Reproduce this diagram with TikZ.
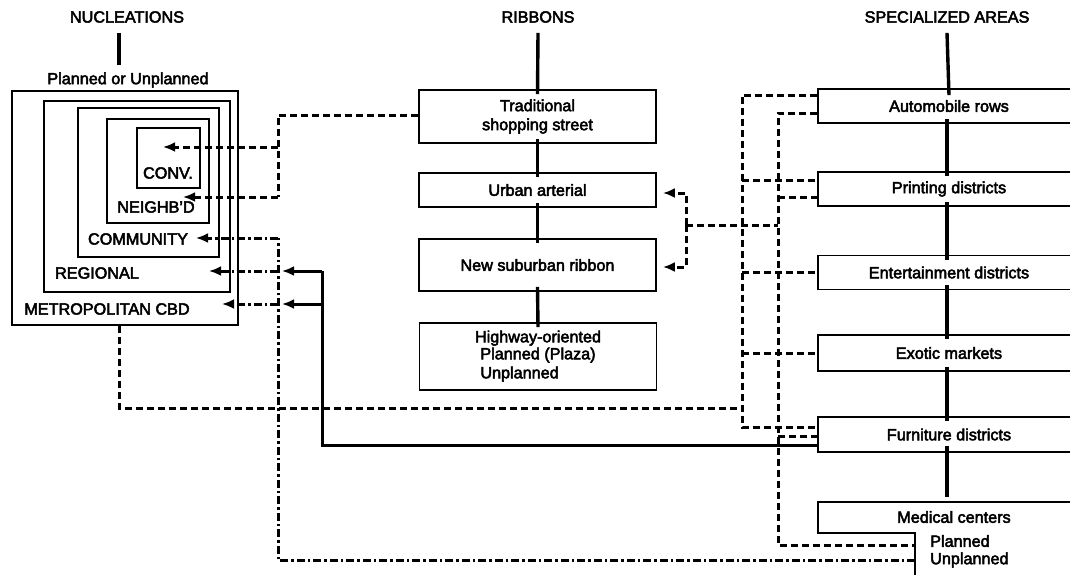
\documentclass[tikz,border=0pt]{standalone}
\usepackage{fontspec}
\setmainfont{Liberation Sans}[BoldFont=Liberation Sans, BoldFeatures={FakeBold=3}]
\usetikzlibrary{arrows.meta}
\begin{document}
\begin{tikzpicture}[x=1pt,y=-1pt,
  every node/.style={font=\fontsize{16.2}{19}\selectfont\bfseries, inner sep=0pt},
  box/.style={draw, line width=1.7pt, minimum width=237pt},
  sbox/.style={draw, line width=1.7pt, minimum width=262pt, minimum height=34pt},
  nbox/.style={draw, line width=1.7pt},
  conn/.style={line width=3.4pt},
  dsh/.style={line width=3pt, dash pattern=on 7pt off 4pt},
  dd/.style={line width=3pt, dash pattern=on 8pt off 3pt on 2.5pt off 3pt},
  sol/.style={line width=3pt},
  tip/.style={-{Latex[length=12pt,width=10pt]}}
]
\clip (0,0) rectangle (1070,574);
\useasboundingbox (0,0) rectangle (1070,574);
\fill[white] (0,0) rectangle (1070,574);

% headers
\node (hN) at (127,17) {NUCLEATIONS};
\node (hR) at (538,17) {RIBBONS};
\node (hS) at (947,17) {SPECIALIZED AREAS};
\node (pu) at (128,80) {Planned or Unplanned};

% nucleation boxes
\node[nbox, minimum width=226pt, minimum height=234pt] (metro) at (125,208) {};
\node[nbox, minimum width=186pt, minimum height=191pt] (reg) at (137,196.5) {};
\node[nbox, minimum width=141pt, minimum height=149pt] (comm) at (148.5,182.5) {};
\node[nbox, minimum width=102pt, minimum height=104pt] (neigh) at (158,171) {};
\node[nbox, minimum width=63pt, minimum height=60pt] (conv) at (168.5,158) {};
\node (lconv) at (168,173) {CONV.};
\node (lneigh) at (156,207) {NEIGHB'D};
\node (lcomm) at (138,239) {COMMUNITY};
\node (lreg) at (97,273) {REGIONAL};
\node (lmetro) at (107,309) {METROPOLITAN CBD};
\coordinate (tconv) at (163,147);
\coordinate (tneigh) at (183,197);
\coordinate (tcomm) at (196,238);
\coordinate (treg) at (209,271);
\coordinate (tmetro) at (222,304);
\coordinate (sreg) at (282,271);
\coordinate (smetro) at (282,304);

% ribbons
\node[box, minimum height=53pt, align=center] (trad) at (537.5,116.5) {Traditional\\shopping street};
\node[box, minimum height=34pt] (urban) at (537.5,190) {Urban arterial};
\node[box, minimum height=52pt] (newsub) at (537.5,265) {New suburban ribbon};
\node[box, minimum height=67pt] (hwy) at (538,356.5)
  {\raisebox{-5pt}{\begin{tabular}{@{}c@{}}Highway-oriented\\[-2pt]\begin{tabular}{@{}l@{}}Planned (Plaza)\\[0pt]Unplanned\end{tabular}\end{tabular}}};

% specialized
\node[sbox] (auto) at (949,106) {Automobile rows};
\node[sbox] (print) at (949,189) {Printing districts};
\node[sbox] (ent) at (949,272.5) {Entertainment districts};
\node[sbox, minimum height=36pt] (exotic) at (949,353) {Exotic markets};
\node[sbox, minimum height=35pt] (furn) at (949,434.5) {Furniture districts};
\node (med) at (954,517) {Medical centers};
\draw[line width=1.7pt] (1085,502) -- (818,502) -- (818,533) -- (915,533) -- (915,580);
\coordinate (medP) at (915,545);
\coordinate (medU) at (915,560);
\node[anchor=west] (planned) at (930,541) {Planned};
\node[anchor=west] (unplanned) at (930,560) {Unplanned};

% header / chain connectors
\draw[conn] (hN.south -| 119,0) ++(0,10) -- (119,65);
\draw[conn] (hR.south) ++(0,10) -- ([yshift=-5pt]trad.north);
\draw[conn] (hS.south) ++(0,10) -- ([yshift=-7pt]auto.north);
\foreach \a/\b in {trad/urban, urban/newsub, newsub/hwy}
  \draw[conn] ([yshift=5pt]\a.south) -- ([yshift=-5pt]\b.north);
\foreach \a/\b in {auto/print, print/ent, ent/exotic, exotic/furn}
  \draw[conn] ([yshift=5pt]\a.south -| 947,0) -- ([yshift=-5pt]\b.north -| 947,0);
\draw[conn] ([yshift=7pt]furn.south -| 947,0) -- (947,497);

% traditional -> conv, neighbourhood
\draw[dsh] (trad.west |- 0,115) -| (278,197) coordinate (tj);
\draw[dsh,tip] (tj) -- (tneigh);
\draw[dsh,tip] (278,147) -- (tconv);

% ribbons <- specialized
\draw[dsh,tip] (686,225) |- ([xshift=6pt,yshift=-3pt]urban.east);
\draw[dsh,tip] (686,225) |- ([xshift=6pt,yshift=-2pt]newsub.east);
\draw[dsh] (686,225) -- (778,225);

% right dashed buses
\draw[dsh] (auto.west |- 0,95) -| (742,427) -- (furn.west |- 0,427);
\draw[dsh] (auto.west |- 0,113) -| (778,545) -- (medP);
\draw[dsh] (742,180) -- (print.west |- 0,180);
\draw[dsh] (778,197) -- (print.west |- 0,197);
\draw[dsh] (742,272) -- (ent.west |- 0,272);
\draw[dsh] (742,353) -- (exotic.west);
\draw[dsh] (778,436) -- (furn.west |- 0,436);

% metropolitan CBD to bus
\draw[dsh] (metro.south -| 119,0) |- (742,408);

% solid furniture line
\draw[sol] (furn.west |- 0,445) -| (322,271) coordinate (sj);
\draw[sol,tip] (sj) -- (sreg);
\draw[sol,tip] (322,304) -- (smetro);

% dash-dot unplanned medical
\draw[dd] (medU) -| (278,238) coordinate (dj);
\draw[dd,tip] (dj) -- (tcomm);
\draw[dd,tip] (278,271) -- (treg);
\draw[dd,tip] (278,304) -- (tmetro);
\end{tikzpicture}
\end{document}
